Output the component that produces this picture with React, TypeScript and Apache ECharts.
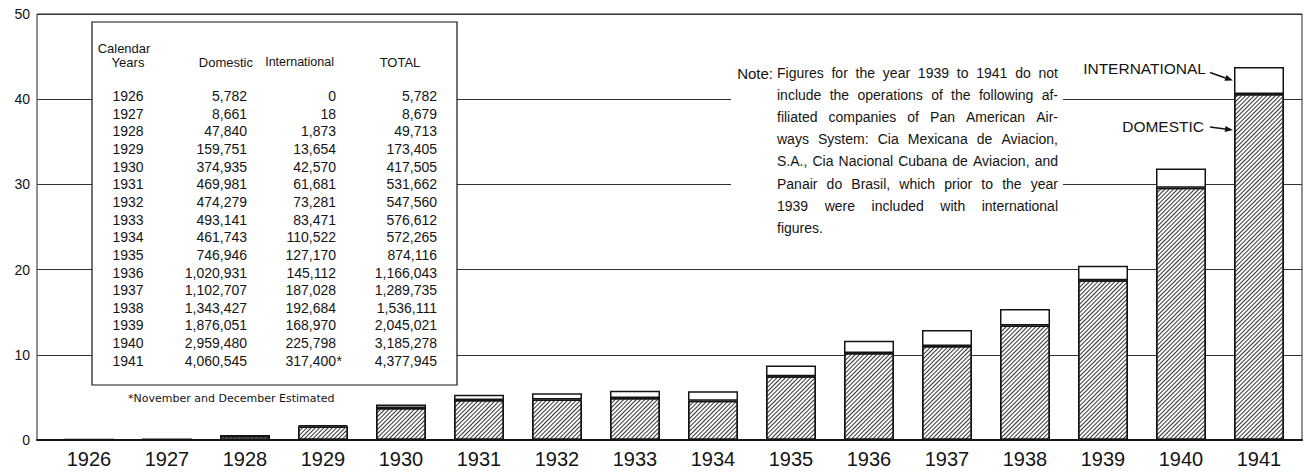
import React, { useEffect, useRef } from 'react';
import * as echarts from 'echarts';

const years = ['1926', '1927', '1928', '1929', '1930', '1931', '1932', '1933', '1934', '1935', '1936', '1937', '1938', '1939', '1940', '1941'];
const domestic = [5782, 8661, 47840, 159751, 374935, 469981, 474279, 493141, 461743, 746946, 1020931, 1102707, 1343427, 1876051, 2959480, 4060545];
const international = [0, 18, 1873, 13654, 42570, 61681, 73281, 83471, 110522, 127170, 145112, 187028, 192684, 168970, 225798, 317400];
const totals = [5782, 8679, 49713, 173405, 417505, 531662, 547560, 576612, 572265, 874116, 1166043, 1289735, 1536111, 2045021, 3185278, 4377945];
const yTicks = [0, 10, 20, 30, 40, 50];
const estimatedIndex = 15;
const tableHeaders = ['Calendar', 'Years', 'Domestic', 'International', 'TOTAL'];
const footnote = '*November and December Estimated';
const noteLabel = 'Note:';
const noteLines = [
  'Figures for the year 1939 to 1941 do not',
  'include the operations of the following af-',
  'filiated companies of Pan American Air-',
  'ways System: Cia Mexicana de Aviacion,',
  'S.A., Cia Nacional Cubana de Aviacion, and',
  'Panair do Brasil, which prior to the year',
  '1939 were included with international',
  'figures.',
];
const seriesNames = ['DOMESTIC', 'INTERNATIONAL'];

const SCALE = 100000;
const FONT = '"Liberation Sans", Arial, sans-serif';
const INK = '#141414';

const fmt = (n: number) => n.toLocaleString('en-US');

function txt(text: string, x: number, y: number, size: number, align: string, family = FONT, extra: any = {}) {
  return {
    type: 'text',
    x,
    y,
    z: 100,
    style: {
      text,
      fill: INK,
      fontSize: size,
      fontFamily: family,
      textAlign: align,
      textVerticalAlign: 'middle',
      verticalAlign: 'middle',
      ...extra,
    },
  };
}

export default function App() {
  const ref = useRef<HTMLDivElement>(null);
  useEffect(() => {
    const chart = echarts.init(ref.current!, null, { renderer: 'svg' });

    const option: any = {
      animation: false,
      backgroundColor: '#fff',
      grid: [
        { left: 37, right: 6, top: 14, bottom: 32, show: true, borderColor: '#222', borderWidth: 1, backgroundColor: 'transparent' },
        { left: 50, right: 10, top: 14, bottom: 32 },
      ],
      xAxis: [
        {
          gridIndex: 0, type: 'value', min: 0, max: 1,
          axisLine: { show: true, lineStyle: { color: INK, width: 2 } },
          axisTick: { show: false }, axisLabel: { show: false }, splitLine: { show: false },
        },
        {
          gridIndex: 1, type: 'category', data: years,
          axisLine: { show: false }, axisTick: { show: false },
          axisLabel: { fontSize: 20, fontFamily: FONT, color: INK, margin: 9 },
        },
      ],
      yAxis: [
        {
          gridIndex: 0, type: 'value', min: yTicks[0], max: yTicks[yTicks.length - 1], interval: 10,
          axisLine: { show: false }, axisTick: { show: false },
          axisLabel: { fontSize: 14, fontFamily: FONT, color: INK, margin: 7 },
          splitLine: { show: true, lineStyle: { color: '#333', width: 1 } },
        },
        {
          gridIndex: 1, type: 'value', min: yTicks[0], max: yTicks[yTicks.length - 1],
          show: false, splitLine: { show: false },
        },
      ],
      series: [
        {
          name: seriesNames[0], type: 'bar', stack: 'total', xAxisIndex: 1, yAxisIndex: 1,
          barWidth: 50,
          data: domestic.map((v) => v / SCALE),
          itemStyle: {
            color: '#fff', borderColor: INK, borderWidth: 1.5,
            decal: {
              symbol: 'rect', symbolSize: 1, color: '#333', backgroundColor: null,
              dashArrayX: [1, 0], dashArrayY: [1, 2], rotation: -Math.PI / 4,
            },
          },
        },
        {
          name: seriesNames[1], type: 'bar', stack: 'total', xAxisIndex: 1, yAxisIndex: 1,
          barWidth: 50,
          data: international.map((v) => v / SCALE),
          itemStyle: { color: '#fff', borderColor: INK, borderWidth: 1.5 },
        },
      ],
    };
    chart.setOption(option);

    const g: any[] = [];
    // Inset table
    g.push({ type: 'rect', z: 99, shape: { x: 92, y: 22, width: 365, height: 363 }, style: { fill: '#fff', stroke: INK, lineWidth: 1.2 } });
    g.push(txt(tableHeaders[0], 124, 48, 13, 'center'));
    g.push(txt(tableHeaders[1], 128, 62, 13, 'center'));
    g.push(txt(tableHeaders[2], 253, 62, 13, 'right'));
    g.push(txt(tableHeaders[3], 334, 62, 12.5, 'right'));
    g.push(txt(tableHeaders[4], 400, 62, 13, 'center'));
    years.forEach((yr, i) => {
      const y = 96 + i * 17.65;
      g.push(txt(yr, 128, y, 14, 'center'));
      g.push(txt(fmt(domestic[i]), 247, y, 14, 'right'));
      g.push(txt(fmt(international[i]), 336, y, 14, 'right'));
      if (i === estimatedIndex) g.push(txt('*', 336.5, y, 14, 'left'));
      g.push(txt(fmt(totals[i]), 437, y, 14, 'right'));
    });
    g.push(txt(footnote, 128, 398, 11, 'left', '"DejaVu Sans", sans-serif'));

    // Note block, justified
    g.push({ type: 'rect', z: 99, shape: { x: 731, y: 60, width: 332, height: 182 }, style: { fill: '#fff' } });
    const noteSize = 14;
    const canvas = document.createElement('canvas');
    const ctx = canvas.getContext('2d')!;
    ctx.font = `${noteSize}px "Liberation Sans"`;
    const left = 777, right = 1058;
    g.push(txt(noteLabel, 773, 73, 15, 'right'));
    noteLines.forEach((line, li) => {
      const y = 73 + li * 22.1;
      const words = line.split(' ');
      if (li === noteLines.length - 1 || words.length < 2) {
        g.push(txt(line, left, y, noteSize, 'left'));
        return;
      }
      const widths = words.map((w) => ctx.measureText(w).width);
      const sum = widths.reduce((a, b) => a + b, 0);
      const gap = (right - left - sum) / (words.length - 1);
      let x = left;
      words.forEach((w, wi) => {
        g.push(txt(w, x, y, noteSize, 'left'));
        x += widths[wi] + gap;
      });
    });

    // Series labels with arrows, attached to last bar
    const last = years.length - 1;
    const [cx] = chart.convertToPixel({ xAxisIndex: 1, yAxisIndex: 1 }, [last, 0]) as number[];
    const barLeft = cx - 25;
    const yIntlMid = (chart.convertToPixel({ xAxisIndex: 1, yAxisIndex: 1 }, [last, (domestic[last] + international[last] / 2) / SCALE]) as number[])[1];
    const yDomTop = (chart.convertToPixel({ xAxisIndex: 1, yAxisIndex: 1 }, [last, domestic[last] / SCALE]) as number[])[1];
    const arrow = (x1: number, y1: number, x2: number, y2: number) => {
      const dx = x2 - x1, dy = y2 - y1;
      const len = Math.hypot(dx, dy);
      const ux = dx / len, uy = dy / len;
      const bx = x2 - ux * 8, by = y2 - uy * 8;
      g.push({ type: 'line', z: 100, shape: { x1, y1, x2: bx, y2: by }, style: { stroke: INK, lineWidth: 1.6 } });
      g.push({
        type: 'polygon', z: 100,
        shape: { points: [[x2, y2], [bx - uy * 3, by + ux * 3], [bx + uy * 3, by - ux * 3]] },
        style: { fill: INK },
      });
    };
    const tipI = { x: barLeft - 1, y: yIntlMid };
    arrow(tipI.x - 23, tipI.y - 8, tipI.x, tipI.y);
    g.push(txt(seriesNames[1], tipI.x - 27, tipI.y - 12, 15.5, 'right'));
    const tipD = { x: barLeft - 1, y: yDomTop + 36 };
    arrow(tipD.x - 23, tipD.y - 3, tipD.x, tipD.y);
    g.push(txt(seriesNames[0], tipD.x - 29, tipD.y - 4, 15.5, 'right'));

    chart.setOption({ graphic: { elements: g } });

    return () => chart.dispose();
  }, []);
  return <div ref={ref} style={{ width: 1308, height: 472, position: 'absolute', left: 0, top: 0 }} />;
}
